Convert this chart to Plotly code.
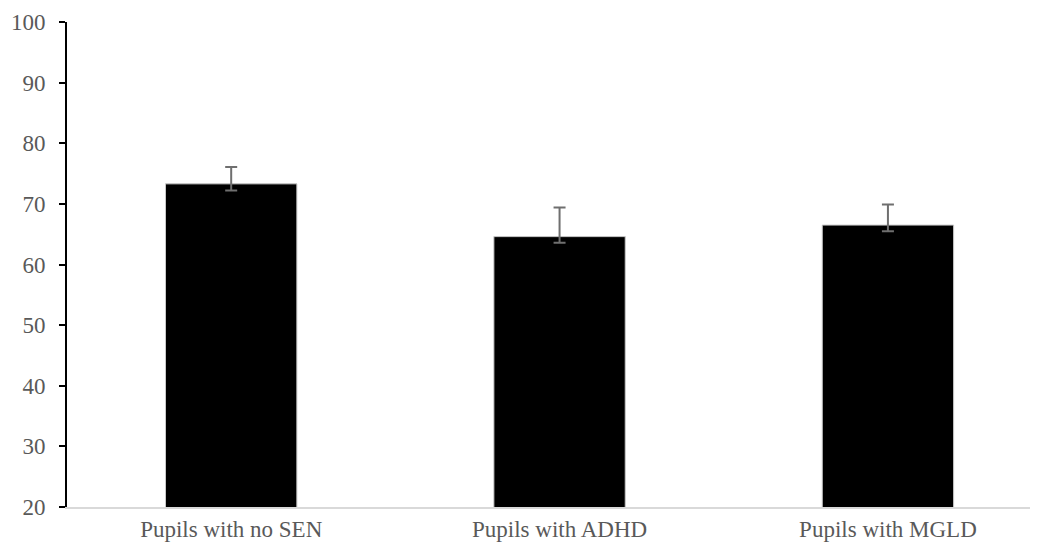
import plotly.graph_objects as go

categories = ["Pupils with no SEN", "Pupils with ADHD", "Pupils with MGLD"]
values = [73.3, 64.6, 66.5]
err_plus = [2.8, 4.8, 3.4]
err_minus = [1.1, 1.0, 1.0]
y_ticks = [20, 30, 40, 50, 60, 70, 80, 90, 100]

fig = go.Figure()
fig.add_trace(go.Bar(
    x=[0, 1, 2],
    y=values,
    width=0.4,
    marker=dict(color="#000000", line=dict(color="#c8c8c8", width=1)),
    error_y=dict(type="data", symmetric=False, array=err_plus, arrayminus=err_minus,
                 color="#6f6f6f", thickness=2, width=6),
))

font_family = "Liberation Serif, Times New Roman, serif"
fig.update_layout(
    width=1030, height=538,
    margin=dict(l=59, r=0, t=14, b=39),
    plot_bgcolor="white", paper_bgcolor="white",
    showlegend=False,
    font=dict(family=font_family, size=23, color="#595959"),
    xaxis=dict(
        range=[-0.5, 2.457],
        tickmode="array", tickvals=[0, 1, 2], ticktext=categories,
        showline=True, linecolor="#d9d9d9", linewidth=2,
        showgrid=False, zeroline=False, ticks="",
        tickfont=dict(family=font_family, size=23, color="#595959"),
    ),
    yaxis=dict(
        range=[20, 100],
        tickmode="array", tickvals=y_ticks,
        showline=True, linecolor="#000000", linewidth=2,
        ticks="outside", ticklen=6, tickwidth=2, tickcolor="#000000",
        showgrid=False, zeroline=False,
        ticklabelstandoff=9,
        tickfont=dict(family=font_family, size=23, color="#595959"),
    ),
)

fig.write_html("out.html")
